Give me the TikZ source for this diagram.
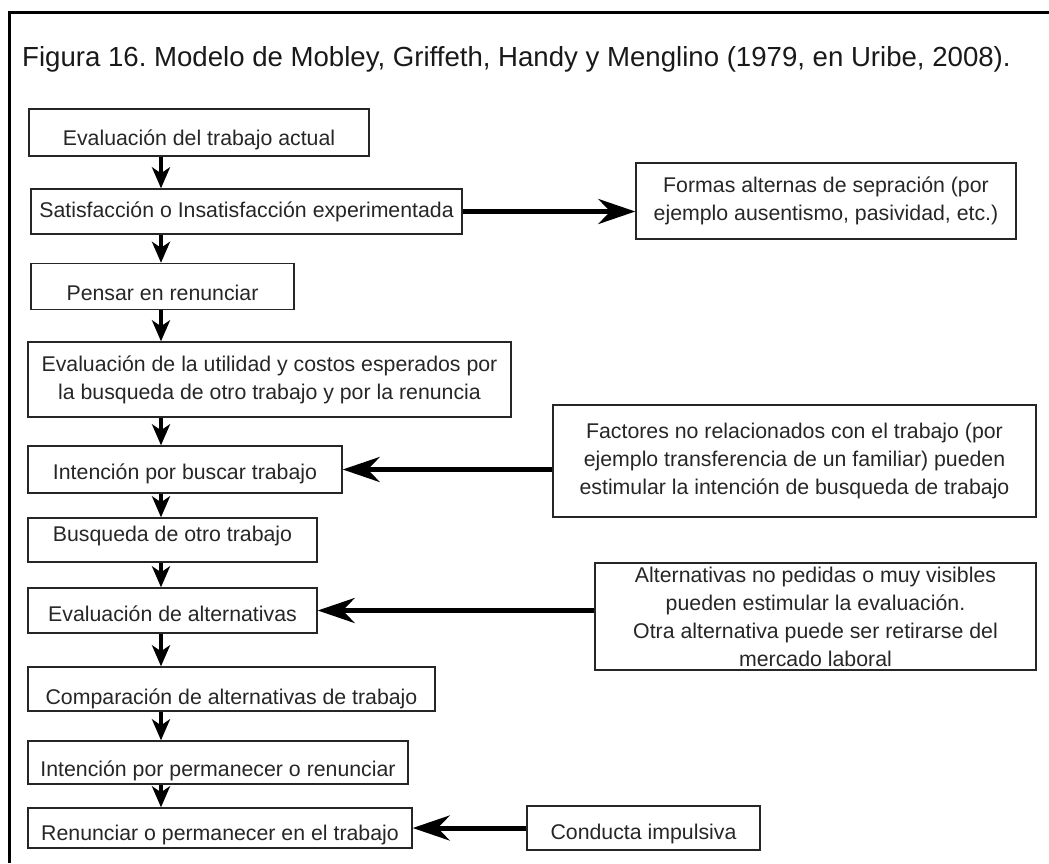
\documentclass[tikz,border=0pt]{standalone}
\usepackage{fontspec}
\setmainfont{Liberation Sans}
\usetikzlibrary{arrows.meta}
\frenchspacing
% set a label lower (or higher) inside its box without changing the box
\newcommand\dropby[2]{\raisebox{-#1}[0.75em][0.25em]{#2}}
\begin{document}
\begin{tikzpicture}[x=1pt,y=-1pt,
  box/.style={draw=black!85, line width=1.4pt, inner sep=0pt, align=center,
    text=black!85, font=\fontsize{21.3}{28}\selectfont},
  down/.style={line width=4pt, -{Stealth[length=21pt,width=18pt,inset=6pt]}},
  side/.style={line width=5pt, -{Stealth[length=37pt,width=25pt,inset=12pt]}}]
\useasboundingbox (0,0) rectangle (1049,863);
% outer frame (top and left edges)
\draw[line width=3pt] (9,863) -- (9,12) -- (1049,12);
% caption
\node[anchor=west, inner sep=0pt, text=black!90, font=\fontsize{27.6}{31}\selectfont] (title) at (22,59)
  {Figura 16. Modelo de Mobley, Griffeth, Handy y Menglino (1979, en Uribe, 2008).};
% main chain
\node[box, minimum width=340pt, minimum height=47pt] (b1) at (199,132.5) {\dropby{8pt}{Evaluación del trabajo actual}};
\node[box, minimum width=431pt, minimum height=45pt] (b2) at (246.5,211.5) {Satisfacción o Insatisfacción experimentada};
\node[box, minimum width=263pt, minimum height=46pt] (b3) at (162.5,286.5) {\dropby{9pt}{Pensar en renunciar}};
\node[box, minimum width=483pt, minimum height=75pt] (b4) at (269.5,379.5) {Evaluación de la utilidad y costos esperados por\\la busqueda de otro trabajo y por la renuncia};
\node[box, minimum width=314pt, minimum height=47pt] (b5) at (185,469.5) {\dropby{5pt}{Intención por buscar trabajo}};
\node[box, minimum width=289pt, minimum height=44pt] (b6) at (172.5,540) {\dropby{-4pt}{Busqueda de otro trabajo}};
\node[box, minimum width=289pt, minimum height=45pt] (b7) at (172.5,610.5) {\dropby{6pt}{Evaluación de alternativas}};
\node[box, minimum width=407pt, minimum height=44pt] (b8) at (231.5,689) {\dropby{10pt}{Comparación de alternativas de trabajo}};
\node[box, minimum width=380pt, minimum height=43pt] (b9) at (218,762.5) {\dropby{9pt}{Intención por permanecer o renunciar}};
\node[box, minimum width=384pt, minimum height=40pt] (b10) at (220,828) {\dropby{7pt}{Renunciar o permanecer en el trabajo}};
% side boxes
\node[box, minimum width=380pt, minimum height=76pt] (formas) at (826,201) {Formas alternas de sepración (por\\ejemplo ausentismo, pasividad, etc.)};
\node[box, minimum width=483pt, minimum height=112pt] (factores) at (794.5,461) {Factores no relacionados con el trabajo (por\\ejemplo transferencia de un familiar) pueden\\estimular la intención de busqueda de trabajo};
\node[box, minimum width=441pt, minimum height=107pt] (altern) at (815.5,616.5) {Alternativas no pedidas o muy visibles\\pueden estimular la evaluación.\\Otra alternativa puede ser retirarse del\\mercado laboral};
\node[box, minimum width=233pt, minimum height=44pt] (impulso) at (643.5,828) {\dropby{6pt}{Conducta impulsiva}};
% vertical connectors along one spine
\coordinate (spine) at (161,0);
\foreach \a/\b in {b1/b2,b2/b3,b3/b4,b4/b5,b5/b6,b6/b7,b7/b8,b8/b9,b9/b10}
  \draw[down] (\a.south -| spine) -- (\b.north -| spine);
% horizontal connectors
\draw[side] (b2.east) -- (b2.east -| formas.west);
\draw[side] (factores.west |- b5.east) -- (b5.east);
\draw[side] (altern.west |- b7.east) -- (b7.east);
\draw[side] (impulso.west) -- (impulso.west -| b10.east);
\end{tikzpicture}
\end{document}
